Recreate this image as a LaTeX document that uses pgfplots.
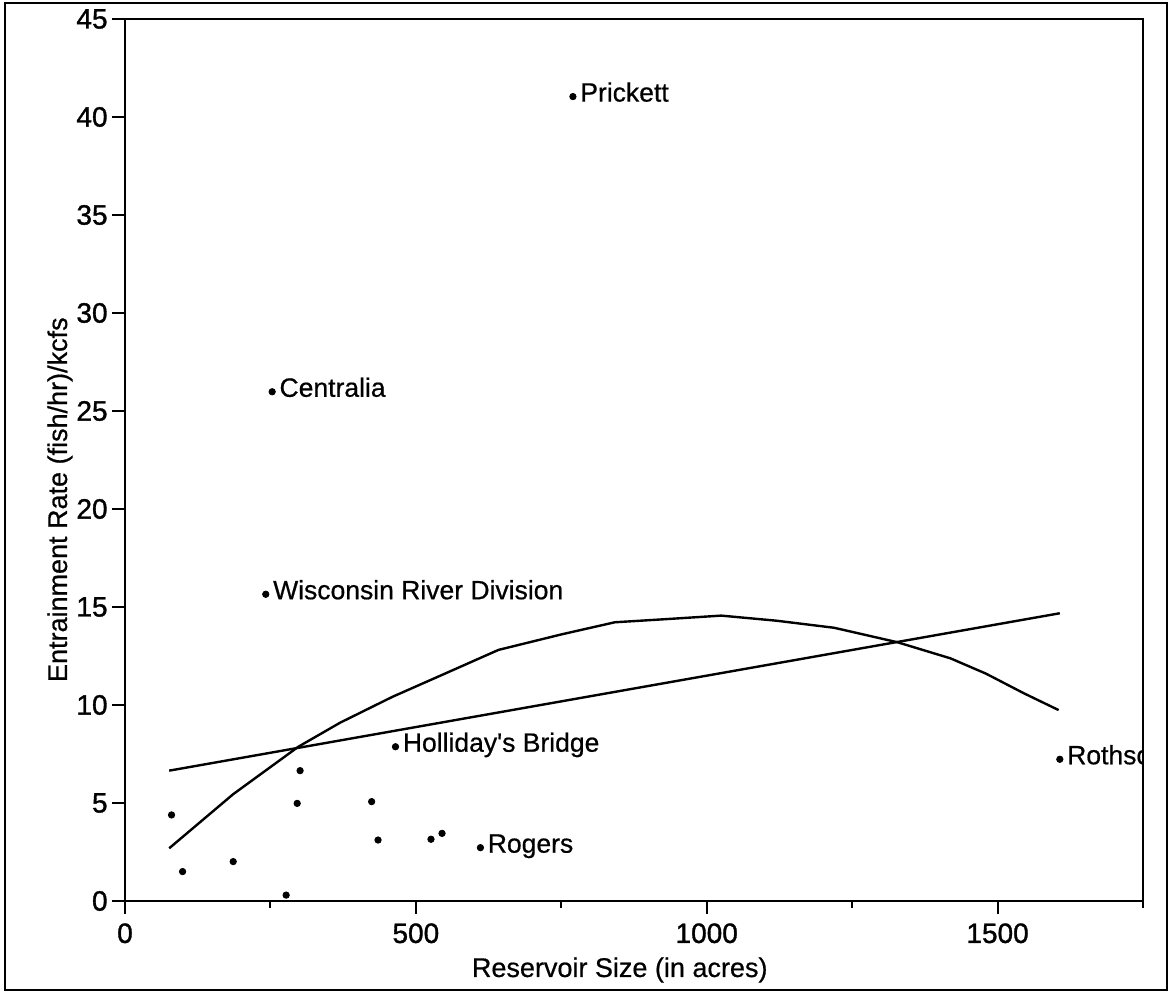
\documentclass[border=0pt]{standalone}
\usepackage{pgfplots}
\pgfplotsset{compat=1.18}
\usepackage{fontspec}
\setmainfont{Liberation Sans}
\newfontfamily\tickfont[FakeBold=1.2]{Liberation Sans}
\newfontfamily\labfont[FakeBold=0.6]{Liberation Sans}
\begin{document}
\begin{tikzpicture}
\useasboundingbox (0,0) rectangle (586.5pt,497pt);
\draw[line width=0.7pt] (2.5pt,2pt) rectangle (583.5pt,495.5pt);
\begin{axis}[
  at={(62.5pt,46.5pt)}, anchor=south west,
  scale only axis, width=509pt, height=441pt,
  xmin=0, xmax=1750, ymin=0, ymax=45,
  axis line style={line width=1pt},
  tick style={line width=1pt, black},
  tick align=outside, tick pos=left,
  xtick={0,500,1000,1500}, minor xtick={250,750,1250,1750},
  ytick={0,5,...,45},
  major tick length=6.5pt, minor tick length=3.5pt,
  /pgf/number format/assume math mode=true,
  /pgf/number format/1000 sep={},
  ticklabel style={font=\tickfont\fontsize{14}{16}\selectfont, inner sep=0pt},
  xticklabel style={anchor=north, yshift=-4.5pt},
  yticklabel style={anchor=east, xshift=-2pt},
  xlabel={Reservoir Size (in acres)},
  ylabel={Entrainment Rate (fish/hr)/kcfs},
  label style={font=\labfont\fontsize{13.5}{16}\selectfont},
  xlabel style={at={(axis description cs:0.486,0)}, anchor=base, yshift=-38pt},
  ylabel style={at={(axis description cs:0,0.455)}, anchor=center, rotate=0, yshift=32.5pt},
  clip marker paths=true,
]
% regression line
\addplot[black, line width=1.2pt] coordinates {(76,6.65) (1607,14.68)};
% smoothed curve
\addplot[black, line width=1.2pt] coordinates {
(76,2.69) (186,5.45) (298,7.87) (370,9.1) (460,10.42) (550,11.6) (642,12.81)
(750,13.6) (842,14.22) (930,14.38) (1025,14.56) (1120,14.3) (1219,13.94)
(1328,13.2) (1419,12.38) (1480,11.6) (1545,10.6) (1605,9.74)};
% unlabeled points
\addplot[only marks, mark=*, mark size=1.6pt, black] coordinates {
(80,4.39) (99,1.50) (186,2.01) (277,0.3) (296,4.98) (301,6.65)
(424,5.07) (435,3.11) (526,3.15) (545,3.45)};
% labeled points
\addplot[only marks, mark=*, mark size=1.6pt, black,
  point meta=explicit symbolic, nodes near coords,
  every node near coord/.style={anchor=base west, inner sep=0pt, xshift=3.5pt, yshift=-2.5pt,
    font=\labfont\fontsize{13.25}{16}\selectfont, black}] coordinates {
(770,41.04) [Prickett]
(253,25.98) [Centralia]
(242,15.65) [Wisconsin River Division]
(465,7.87) [Holliday's Bridge]
(611,2.72) [Rogers]
(1607,7.23) [Rothschild]};
\end{axis}
\end{tikzpicture}
\end{document}
